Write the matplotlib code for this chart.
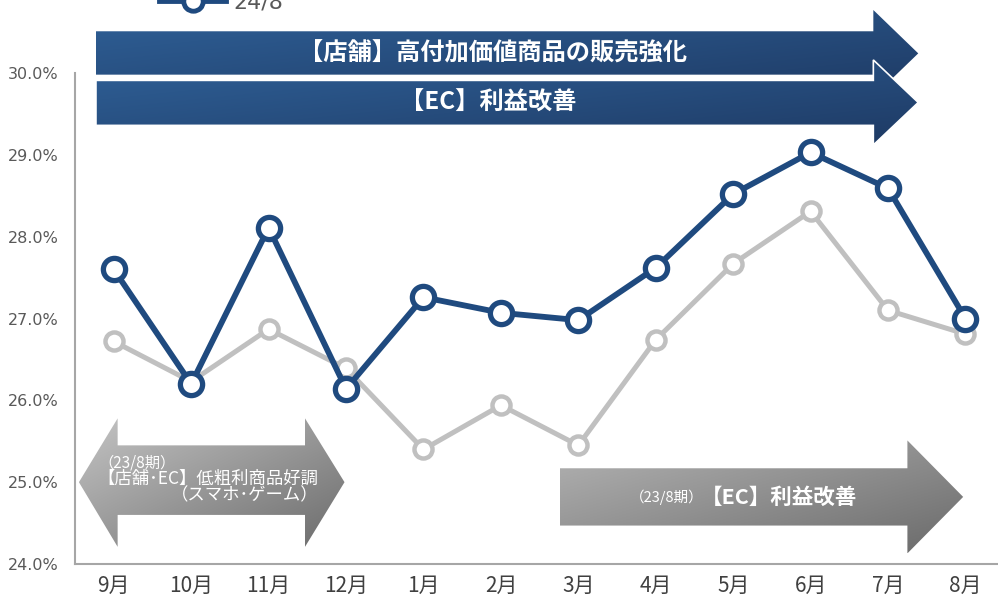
import numpy as np
import matplotlib
matplotlib.use("Agg")
import matplotlib.pyplot as plt
from matplotlib.patches import Polygon
from matplotlib.lines import Line2D
from matplotlib.colors import LinearSegmentedColormap

plt.rcParams['font.family'] = ['Noto Sans CJK JP', 'DejaVu Sans']

months = ['9月', '10月', '11月', '12月', '1月', '2月', '3月', '4月', '5月', '6月', '7月', '8月']
rate_24 = [27.60, 26.20, 28.11, 26.14, 27.26, 27.07, 26.98, 27.62, 28.52, 29.03, 28.59, 27.00]
rate_23 = [26.72, 26.23, 26.87, 26.39, 25.40, 25.94, 25.45, 26.74, 27.67, 28.31, 27.10, 26.81]
yticks = [24, 25, 26, 27, 28, 29, 30]

navy = '#1f4a7f'
gray = '#c0c0c0'

fig = plt.figure(figsize=(9.98, 5.99), dpi=100)
ax = fig.add_axes([0.0752, 0.0584, 0.931, 0.8197])
x = np.arange(len(months))


def grad_arrow(verts, c0, c1, z, edge='none'):
    poly = Polygon(verts, closed=True, facecolor='none', edgecolor=edge,
                   lw=1.2, transform=ax.transData, clip_on=False, zorder=z + 0.1)
    ax.add_patch(poly)
    xs = [v[0] for v in verts]
    ys = [v[1] for v in verts]
    g = np.linspace(0, 1, 256)
    X, Y = np.meshgrid(g, g)
    cmap = LinearSegmentedColormap.from_list('g', [c0, c1])
    im = ax.imshow((X + Y) / 2, cmap=cmap, origin='upper', aspect='auto',
                   extent=(min(xs), max(xs), min(ys), max(ys)),
                   interpolation='bilinear', zorder=z)
    im.set_clip_box(fig.bbox)
    im.set_clip_path(poly)


# top arrows (24/8 initiatives)
grad_arrow([(-0.23, 30.51), (9.81, 30.51), (9.81, 30.77), (10.39, 30.24),
            (9.81, 29.71), (9.81, 29.98), (-0.23, 29.98)],
           '#2f6097', '#1e3a64', 1)
grad_arrow([(-0.23, 29.91), (9.81, 29.91), (9.81, 30.16), (10.39, 29.64),
            (9.81, 29.12), (9.81, 29.36), (-0.23, 29.36)],
           '#2f6097', '#1e3a64', 2, edge='white')

# lower-left double arrow (23/8)
grad_arrow([(-0.45, 25.0), (0.05, 25.78), (0.05, 25.45), (2.47, 25.45),
            (2.47, 25.78), (2.98, 25.0), (2.47, 24.21), (2.47, 24.60),
            (0.05, 24.60), (0.05, 24.21)],
           '#c4c4c4', '#6c6c6c', 1)

# lower-right arrow (23/8)
grad_arrow([(5.76, 25.17), (10.25, 25.17), (10.25, 25.51), (10.97, 24.82),
            (10.25, 24.13), (10.25, 24.47), (5.76, 24.47)],
           '#b4b4b4', '#6a6a6a', 1)

ax.text(4.9, 30.24, '【店舗】高付加価値商品の販売強化', color='white', fontsize=17.5,
        fontweight='bold', ha='center', va='center', zorder=5, clip_on=False)
ax.text(4.83, 29.64, '【EC】利益改善', color='white', fontsize=17.5,
        fontweight='bold', ha='center', va='center', zorder=5, clip_on=False)

ax.text(-0.2, 25.24, '（23/8期）', color='white', fontsize=11, ha='left', va='center', zorder=5)
ax.text(-0.21, 25.04, '【店舗･EC】低粗利商品好調', color='white', fontsize=12.5,
        ha='left', va='center', zorder=5)
ax.text(2.64, 24.84, '（スマホ･ゲーム）', color='white', fontsize=12.5,
        ha='right', va='center', zorder=5)
ax.text(7.62, 24.81, '（23/8期）', color='white', fontsize=10.5, ha='right', va='center', zorder=5)
ax.text(7.58, 24.82, '【EC】利益改善', color='white', fontsize=15.5,
        fontweight='bold', ha='left', va='center', zorder=5)

ax.plot(x, rate_23, color=gray, lw=3.6, marker='o', ms=13, mfc='white',
        mec=gray, mew=3.2, zorder=6, clip_on=False)
ax.plot(x, rate_24, color=navy, lw=4.2, marker='o', ms=16, mfc='white',
        mec=navy, mew=3.8, zorder=7, clip_on=False)

ax.set_xlim(-0.5, 11.5)
ax.set_ylim(24, 30)
ax.set_yticks(yticks)
ax.set_yticklabels([f'{v:.1f}%' for v in yticks], color='#595959', fontsize=11.5,
                   family=['DejaVu Sans'])
ax.set_xticks(x)
ax.set_xticklabels(months, color='#404040', fontsize=15)
ax.tick_params(axis='x', length=0, pad=8)
ax.tick_params(axis='y', length=0, pad=12)
for s in ['top', 'right']:
    ax.spines[s].set_visible(False)
for s in ['left', 'bottom']:
    ax.spines[s].set_color('#a6a6a6')
    ax.spines[s].set_linewidth(1.5)
ax.set_facecolor('none')

leg_handle = Line2D([], [], color=navy, lw=4.2, marker='o', ms=14, mfc='white',
                    mec=navy, mew=3.5)
fig.legend([leg_handle], ['24/8'], loc='center left', bbox_to_anchor=(0.14, 0.995),
           frameon=False, labelcolor='#595959', handlelength=3.0,
           handletextpad=0.3, prop={'family': 'DejaVu Sans', 'size': 16})

fig.savefig('out.png', dpi=100)
